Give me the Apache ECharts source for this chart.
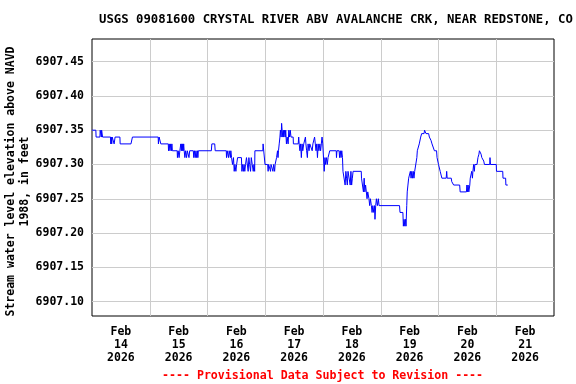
<!DOCTYPE html>
<html>
<head>
<meta charset="utf-8">
<script src="https://cdn.jsdelivr.net/npm/echarts@6/dist/echarts.min.js"></script>
<style>
html,body{margin:0;padding:0;background:#fff;}
#chart{width:576px;height:384px;}
</style>
</head>
<body>
<div id="chart"></div>
<script>
// Title and labels
const chartTitle = 'USGS 09081600 CRYSTAL RIVER ABV AVALANCHE CRK, NEAR REDSTONE, CO';
const yAxisTitle = 'Stream water level elevation above NAVD\n1988, in feet';
const footnote = '---- Provisional Data Subject to Revision ----';
// Day categories (x axis labels, centred on each day)
const dayLabels = ['Feb\n14\n2026','Feb\n15\n2026','Feb\n16\n2026','Feb\n17\n2026','Feb\n18\n2026','Feb\n19\n2026','Feb\n20\n2026','Feb\n21\n2026'];
// Axis extents: hours since 2026-02-14 00:00, elevation in feet
const hourRange = [0, 192];
const elevRange = [6907.079, 6907.483];
// Readings: [hours since Feb 14 00:00, water level elevation ft]
const readings = [
[0,6907.35],[1.6,6907.35],[1.7,6907.34],[3.3,6907.34],[3.4,6907.35],[3.8,6907.35],[3.9,6907.34],[4.0,6907.35],[4.3,6907.35],[4.4,6907.34],
[7.7,6907.34],[7.8,6907.33],[8.0,6907.34],[8.2,6907.33],[8.4,6907.34],[9.1,6907.34],[9.2,6907.33],[9.5,6907.33],[9.6,6907.34],[11.6,6907.34],
[11.7,6907.33],[16.2,6907.33],[16.8,6907.34],[27.5,6907.34],[27.6,6907.33],[27.8,6907.33],[27.9,6907.34],[28.5,6907.34],[28.6,6907.33],[31.7,6907.33],
[31.8,6907.32],[32.1,6907.33],[32.4,6907.32],[32.7,6907.33],[33.0,6907.32],[33.2,6907.33],[33.4,6907.32],[35.4,6907.32],[35.5,6907.31],[35.8,6907.32],
[36.2,6907.31],[36.5,6907.32],[36.9,6907.33],[37.1,6907.32],[37.3,6907.33],[37.5,6907.32],[37.7,6907.33],[37.9,6907.32],[38.1,6907.33],[38.3,6907.32],
[38.6,6907.31],[38.9,6907.32],[39.3,6907.31],[39.6,6907.32],[40.3,6907.31],[40.6,6907.32],[42.1,6907.32],[42.3,6907.31],[42.6,6907.32],[42.9,6907.31],
[43.2,6907.32],[43.5,6907.31],[43.8,6907.32],[44.0,6907.31],[44.2,6907.32],[49.6,6907.32],[49.8,6907.33],[51.0,6907.33],[51.2,6907.32],[55.8,6907.32],
[55.9,6907.31],[56.2,6907.32],[56.7,6907.31],[57.0,6907.32],[57.5,6907.31],[57.7,6907.32],[58.0,6907.31],[58.4,6907.30],[58.8,6907.31],[59.1,6907.29],
[59.4,6907.30],[59.8,6907.29],[60.1,6907.30],[60.5,6907.31],[62.1,6907.31],[62.3,6907.29],[62.6,6907.30],[62.9,6907.29],[63.2,6907.30],[63.5,6907.29],
[63.8,6907.30],[64.2,6907.31],[64.6,6907.31],[64.9,6907.29],[65.2,6907.31],[65.5,6907.30],[65.9,6907.29],[66.2,6907.31],[66.6,6907.30],[67.0,6907.29],
[67.3,6907.30],[67.6,6907.29],[67.7,6907.32],[71.0,6907.32],[71.1,6907.33],[71.8,6907.33],[71.9,6907.30],[73.0,6907.30],[73.2,6907.29],[73.4,6907.30],
[74.0,6907.30],[74.2,6907.29],[74.4,6907.30],[75.0,6907.30],[75.2,6907.29],[75.5,6907.30],[75.9,6907.29],[76.1,6907.30],[76.5,6907.30],[76.7,6907.31],
[77.1,6907.32],[77.3,6907.31],[77.5,6907.32],[77.8,6907.33],[78.1,6907.34],[78.3,6907.35],[78.6,6907.34],[78.8,6907.36],[79.0,6907.35],[79.3,6907.34],
[79.5,6907.35],[79.7,6907.34],[80.0,6907.35],[80.3,6907.34],[80.5,6907.35],[80.8,6907.33],[81.1,6907.34],[81.5,6907.33],[81.8,6907.35],[82.1,6907.34],
[82.4,6907.35],[82.7,6907.34],[83.6,6907.34],[83.7,6907.33],[85.7,6907.33],[85.9,6907.34],[86.1,6907.33],[86.4,6907.32],[86.7,6907.33],[87.0,6907.31],
[87.3,6907.33],[87.6,6907.32],[88.0,6907.33],[88.7,6907.34],[88.9,6907.33],[89.2,6907.32],[89.5,6907.31],[89.8,6907.33],[90.2,6907.32],[90.5,6907.33],
[91.2,6907.33],[91.5,6907.32],[91.8,6907.33],[92.2,6907.33],[92.5,6907.34],[92.8,6907.33],[93.1,6907.32],[93.4,6907.33],[93.7,6907.31],[94.0,6907.33],
[94.3,6907.32],[94.7,6907.33],[95.0,6907.32],[95.3,6907.33],[95.6,6907.34],[95.9,6907.33],[96.3,6907.33],[96.5,6907.29],[96.8,6907.31],[97.1,6907.30],
[97.4,6907.31],[97.8,6907.30],[98.1,6907.31],[98.5,6907.31],[98.8,6907.32],[101.5,6907.32],[101.6,6907.31],[101.8,6907.32],[102.7,6907.32],[102.9,6907.31],
[103.2,6907.32],[103.5,6907.31],[103.8,6907.32],[104.1,6907.31],[104.3,6907.29],[105.0,6907.29],[105.2,6907.27],[105.5,6907.29],[105.8,6907.28],[106.1,6907.27],
[106.4,6907.29],[107.1,6907.29],[107.3,6907.27],[107.6,6907.29],[107.9,6907.27],[108.2,6907.28],[108.5,6907.29],[111.9,6907.29],[112.0,6907.28],[112.6,6907.28],
[112.8,6907.26],[113.1,6907.28],[113.4,6907.26],[113.7,6907.27],[114.0,6907.26],[114.3,6907.25],[114.6,6907.26],[115.1,6907.25],[115.4,6907.24],[115.7,6907.25],
[116.1,6907.24],[116.4,6907.23],[116.7,6907.24],[117.1,6907.23],[117.4,6907.24],[117.6,6907.22],[117.9,6907.24],[118.2,6907.25],[118.6,6907.24],[119.0,6907.25],
[119.3,6907.24],[127.8,6907.24],[128.0,6907.23],[129.2,6907.23],[129.4,6907.21],[129.7,6907.22],[130.0,6907.21],[130.3,6907.22],[130.5,6907.21],[130.8,6907.24],
[131.0,6907.26],[131.3,6907.27],[131.6,6907.28],[132.1,6907.28],[132.3,6907.29],[132.6,6907.28],[132.9,6907.29],[133.2,6907.28],[133.5,6907.29],[133.8,6907.28],
[134.1,6907.29],[134.8,6907.29],[135.0,6907.31],[135.2,6907.32],[136.0,6907.33],[136.6,6907.34],[137.0,6907.345],[138.0,6907.345],[138.2,6907.35],[138.6,6907.35],
[138.8,6907.345],[139.9,6907.345],[140.2,6907.34],[140.7,6907.34],[140.9,6907.335],[141.3,6907.33],[142.1,6907.33],[142.3,6907.32],[143.2,6907.32],[143.4,6907.31],
[143.8,6907.31],[144.0,6907.30],[144.5,6907.30],[144.7,6907.29],[145.2,6907.29],[145.4,6907.28],[147.2,6907.28],[147.4,6907.29],[147.6,6907.28],[149.3,6907.28],
[149.5,6907.275],[150.1,6907.275],[150.3,6907.27],[152.8,6907.27],[153.0,6907.26],[155.6,6907.26],[155.8,6907.27],[156.0,6907.26],[156.3,6907.27],[156.6,6907.26],
[157.0,6907.27],[157.2,6907.28],[157.6,6907.28],[157.8,6907.29],[158.1,6907.28],[158.3,6907.29],[158.6,6907.30],[158.9,6907.29],[159.1,6907.30],[160.0,6907.30],
[160.4,6907.31],[160.8,6907.315],[161.0,6907.32],[161.5,6907.32],[161.7,6907.315],[162.0,6907.31],[162.4,6907.31],[162.8,6907.305],[163.1,6907.30],[165.3,6907.30],
[165.4,6907.31],[165.6,6907.30],[168.0,6907.30],[168.1,6907.29],[170.7,6907.29],[170.8,6907.28],[171.9,6907.28],[172.0,6907.27],[172.8,6907.27]
];

const FONT = '"DejaVu Sans Mono", monospace';
const chart = echarts.init(document.getElementById('chart'), null, {renderer: 'canvas'});
chart.setOption({
  animation: false,
  backgroundColor: '#ffffff',
  title: [
    {text: chartTitle, left: 99, top: 14, padding: 0,
     textStyle: {fontFamily: FONT, fontSize: 12.3, fontWeight: 'bold', color: '#000'}},
    {text: footnote, left: 162, top: 370, padding: 0,
     textStyle: {fontFamily: FONT, fontSize: 11.6, fontWeight: 'bold', color: '#ff0000'}}
  ],
  grid: {left: 92, top: 39, width: 462, height: 277, show: true,
         containLabel: false, outerBoundsMode: 'none',
         borderColor: '#000', borderWidth: 1, backgroundColor: 'transparent'},
  xAxis: [
    {type: 'category', data: dayLabels, position: 'bottom', boundaryGap: true,
     axisLine: {show: false}, axisTick: {show: false}, splitLine: {show: false},
     axisLabel: {fontFamily: FONT, fontSize: 11.5, fontWeight: 'bold', color: '#000',
                 lineHeight: 13, margin: 10, interval: 0}},
    {type: 'value', min: hourRange[0], max: hourRange[1], interval: 24, position: 'top',
     axisLine: {show: false}, axisTick: {show: false}, axisLabel: {show: false},
     splitLine: {show: true, showMinLine: false, showMaxLine: false,
                 lineStyle: {color: '#cccccc', width: 1}}}
  ],
  yAxis: {
    type: 'value', min: elevRange[0], max: elevRange[1], splitNumber: 8,
    name: yAxisTitle, nameLocation: 'middle', nameGap: 60, nameMoveOverlap: false,
    nameTextStyle: {fontFamily: FONT, fontSize: 11.5, fontWeight: 'bold', color: '#000',
                    lineHeight: 14, padding: [0, 8, 0, 0]},
    axisLine: {show: false}, axisTick: {show: false},
    axisLabel: {fontFamily: FONT, fontSize: 11.5, fontWeight: 'bold', color: '#000', margin: 8,
                showMinLabel: false, showMaxLabel: false,
                formatter: v => v.toFixed(2)},
    splitLine: {show: true, showMinLine: false, showMaxLine: false,
                lineStyle: {color: '#cccccc', width: 1}}
  },
  series: [{
    type: 'line', xAxisIndex: 1, yAxisIndex: 0, data: readings,
    showSymbol: false, symbol: 'none',
    lineStyle: {color: '#0000ff', width: 1}, clip: true
  }]
});
</script>
</body>
</html>
